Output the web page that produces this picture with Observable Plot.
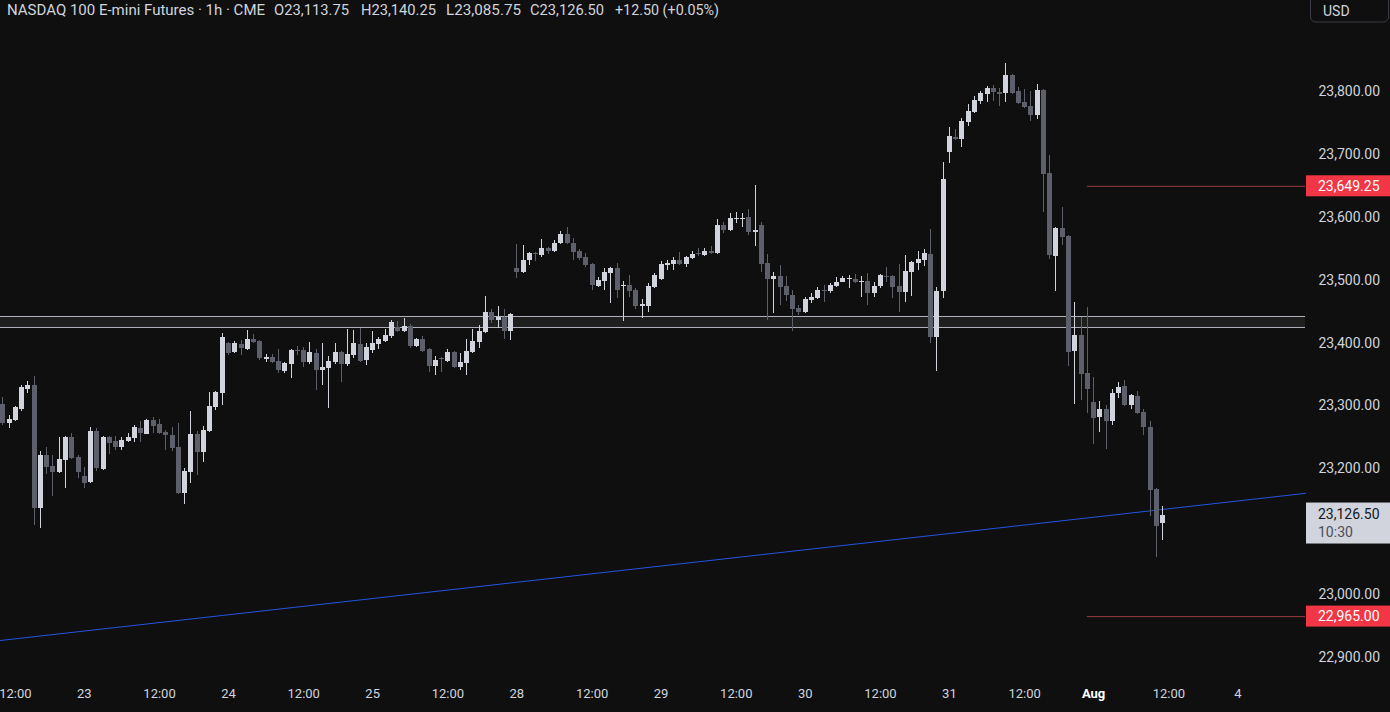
<!DOCTYPE html>
<html>
<head>
<meta charset="utf-8">
<script src="https://cdn.jsdelivr.net/npm/d3@7"></script>
<script src="https://cdn.jsdelivr.net/npm/@observablehq/plot@0.6"></script>
<style>
  html, body { margin: 0; padding: 0; background: #0f0f0f; }
  #chart { width: 1390px; height: 712px; overflow: hidden; }
</style>
</head>
<body>
<div id="chart"></div>
<script>
// ---- Data (hourly bars) ----
const open = [23302,23272,23277,23294.5,23326,23332.5,23137,23221,23203.5,23194,23213,23250,23218,23188,23178,23259.5,23199,23250,23243.5,23234,23243.5,23248,23264,23254.5,23277,23270.5,23258,23253,23234,23161,23194,23254.5,23226,23259.5,23297.5,23320,23399.5,23385,23397.5,23390,23405.5,23402.5,23374,23377,23370.5,23355,23366,23388,23388,23369,23383.5,23356.5,23359.5,23369,23385,23366,23380,23397.5,23372.5,23388,23397.5,23402.5,23410.5,23425,23418.5,23426.5,23394.5,23405.5,23390,23363,23375.5,23370.5,23385,23361,23367.5,23385,23401,23417,23448.5,23436,23440.5,23418.5,23518.5,23512,23531.5,23542.5,23539,23550.5,23545.5,23558.5,23572.5,23558.5,23545.5,23536,23525,23490,23498,23510.5,23518.5,23490,23491.5,23483.5,23458,23458,23488.5,23501,23523.5,23525,23531.5,23525,23534.5,23542.5,23539,23545.5,23542.5,23587,23579,23596.5,23596.5,23599.5,23576,23587,23526.5,23501,23506,23490,23475.5,23455,23448.5,23467.5,23471,23483.5,23482,23490,23496.5,23501,23501,23496.5,23498,23479,23490,23506,23506,23490,23480.5,23512,23526.5,23531.5,23541,23409,23482,23703,23727,23723.5,23750.5,23766.5,23784,23795,23805,23798.5,23797,23825.5,23800,23782.5,23776,23762,23801.5,23669.5,23537.5,23582,23569.5,23386.5,23412,23351.5,23305.5,23281.5,23294.5,23275.5,23320,23331,23300.5,23315,23289.5,23266,23167,23113.75];
const high = [23314,23285,23299,23332,23339,23347,23227.5,23234,23221,23250,23251,23256,23221,23202,23266,23264,23251.5,23251.5,23251.5,23250,23256,23269,23275,23278.5,23281.5,23278.5,23261,23266,23272,23200.5,23291,23259.5,23267.5,23321.5,23323,23415,23401,23402.5,23404,23420,23413.5,23404,23382,23382,23390,23369,23390,23394.5,23393,23401,23390,23399.5,23378.5,23399.5,23386.5,23421.5,23420,23423,23399.5,23418.5,23409,23421.5,23436,23434.5,23439,23429.5,23407.5,23410.5,23391.5,23378.5,23377,23390,23386.5,23383.5,23405.5,23421.5,23428,23474,23453.5,23458,23453.5,23447,23556.5,23555,23544,23544,23564.5,23551.5,23563,23577.5,23584,23566.5,23549,23542.5,23526.5,23504.5,23518.5,23520,23526.5,23498,23507.5,23487,23469.5,23494.5,23510.5,23529.5,23531.5,23536,23544,23537.5,23545.5,23550.5,23550.5,23553.5,23596.5,23591.5,23606,23607.5,23606,23612.5,23650.5,23591.5,23541,23512,23523.5,23506,23483.5,23459.5,23472.5,23479,23488.5,23491.5,23494.5,23504.5,23506,23507.5,23509,23506,23510.5,23496.5,23509,23520,23507.5,23525,23539,23529.5,23545.5,23549,23580.5,23488.5,23687,23743,23739.5,23757,23779.5,23792,23800,23808,23809.5,23805,23844.5,23826.5,23806.5,23803,23800,23811,23803,23698,23584,23615.5,23571,23464.5,23440.5,23456.5,23345.5,23307,23300.5,23326,23337.5,23340.5,23318,23323,23294.5,23275.5,23169,23140.25];
const low = [23269,23264,23275,23291,23320,23110,23105,23191,23156,23192.5,23169,23215,23184.5,23169,23176.5,23196,23197.5,23223,23229,23229,23242,23242,23242,23254,23256,23255,23229,23227.5,23159,23143,23176.5,23189.5,23210,23258,23293,23301,23380,23383,23380,23388,23399,23372,23369,23368,23351.5,23351.5,23343.5,23380,23361,23366,23324.5,23332.5,23296,23366,23337.5,23363,23375.5,23369,23364.5,23383.5,23390,23401,23407.5,23417,23417,23391.5,23393,23385,23353,23348,23353,23369,23359.5,23356.5,23348.5,23383.5,23391.5,23415,23431,23423,23405.5,23404,23502.5,23510.5,23523.5,23529.5,23536,23541,23544,23556.5,23557,23531.5,23531.5,23520,23483.5,23488.5,23483.5,23463,23471,23434.5,23472.5,23453.5,23439,23448.5,23487,23500,23515.5,23515.5,23524,23520,23533.5,23537.5,23538,23541,23541.5,23574,23578,23590,23583.5,23571,23553.5,23512,23436,23447,23459.5,23466,23418.5,23444,23447,23463,23469.5,23464.5,23479,23489,23495.5,23487,23494.5,23472.5,23459.5,23472.5,23487,23496.5,23471,23448.5,23464.5,23474,23515.5,23522,23399.5,23355,23471,23685.5,23722,23711,23744.5,23765.5,23779.5,23782.5,23784,23776,23782.5,23795,23780,23773,23752.5,23755.5,23607.5,23533,23482,23555,23363,23302.5,23308.5,23288,23238.5,23258.5,23231,23269,23312,23299,23294.5,23287,23253,23124.5,23059,23085.75];
const close = [23272,23278.5,23297.5,23329.5,23332.5,23137,23221,23202,23194,23215,23250,23216.5,23194,23176.5,23259.5,23200.5,23250,23240,23234,23245,23250,23266,23256,23277,23267.5,23256,23253,23232.5,23161,23196,23254.5,23226,23261,23299,23321.5,23409,23383.5,23399.5,23391.5,23405.5,23401,23375.5,23377,23369,23356.5,23367.5,23388,23386.5,23369,23385,23356.5,23361,23370.5,23385,23366,23382,23399.5,23370.5,23393,23399.5,23405.5,23412,23432.5,23418.5,23426.5,23394.5,23405.5,23386.5,23363,23372.5,23374,23385,23361,23369,23386.5,23402.5,23418.5,23448.5,23436,23440.5,23418.5,23445.5,23512,23531.5,23542.5,23541,23550.5,23545.5,23558.5,23572.5,23558.5,23544,23534.5,23523.5,23491.5,23499.5,23512,23518.5,23483.5,23491.5,23482,23458,23461.5,23490,23507.5,23525,23526.5,23531.5,23525,23536,23541,23541,23545.5,23542.5,23587,23579,23598,23598,23598,23576,23579,23525,23501,23506,23488.5,23475.5,23453.5,23448.5,23469.5,23472.5,23483.5,23482,23491.5,23496.5,23502.5,23502.5,23496.5,23498,23479,23490,23507.5,23504.5,23488.5,23480.5,23514,23528,23533,23542.5,23409,23482,23660,23728.5,23723.5,23752.5,23768,23785.5,23797,23805,23798.5,23795,23825.5,23797,23781,23774.5,23762,23801.5,23668,23539,23582,23568,23385,23412,23350,23326,23280,23294.5,23275.5,23320,23329.5,23300.5,23316.5,23288,23266,23165.5,23108,23126.5];

// x axis ticks (bar index of the label) and their labels
const tickIndex  = [2, 13, 25, 36, 48, 59, 71, 82, 94, 105, 117, 128, 140, 151, 163, 174, 186, 197];
const tickLabels = ["12:00","23","12:00","24","12:00","25","12:00","28","12:00","29","12:00","30","12:00","31","12:00","Aug","12:00","4"];
const tickBold   = ["Aug"];

// price axis ticks (23,100 is hidden behind the last-price tag in the reference)
const yTicks = [22900, 23000, 23200, 23300, 23400, 23500, 23600, 23700, 23800];

// drawings
const zoneLow = 23424.75, zoneHigh = 23442.25;       // support/resistance zone
const levels = [23649.25, 22965.00];                 // horizontal rays with red price tags
const levelStart = 173;                              // bar index where the rays begin
const trendIdx = [-0.37, 207.8];                     // trend line anchors (bar index)
const trendPrice = [22927, 23161];                   // trend line anchors (price)
const lastPrice = 23126.50, countdown = "10:30";

const title = "NASDAQ 100 E-mini Futures · 1h · CME";
const ohlcText = ["O23,113.75", "H23,140.25", "L23,085.75", "C23,126.50", "+12.50 (+0.05%)"];

// ---- Chart ----
const W = 1390, H = 712, MR = 85, MB = 30;
const xMin = -0.367, xMax = 207.8;
const UP = "#d1d4dc", DOWN = "#5d606b", TXT = "#d1d4dc";
const idx = d3.range(open.length);
const col = i => close[i] >= open[i] ? UP : DOWN;
const fmt = d3.format(",.2f");

const tickData = tickIndex.map((i, k) => ({i, label: tickLabels[k]}));
const trendData = trendIdx.map((x, k) => ({x, y: trendPrice[k]}));

const chart = Plot.plot({
  width: W, height: H,
  marginLeft: 0, marginRight: MR, marginTop: 0, marginBottom: MB,
  style: {background: "#0f0f0f", color: TXT, fontFamily: "Roboto, 'Noto Sans', sans-serif", fontSize: "13px", overflow: "visible"},
  x: {domain: [xMin, xMax], axis: null},
  y: {domain: [22860.2, 23944.7], axis: null},
  color: {type: "identity"},
  marks: [
    Plot.rect([0], {x1: () => xMin, x2: () => xMax, y1: () => zoneLow, y2: () => zoneHigh, fill: "#1f1f1f"}),
    Plot.ruleY([zoneLow, zoneHigh], {x1: () => xMin, x2: () => xMax, stroke: "#b2b5be", strokeWidth: 1}),
    Plot.line(trendData, {x: "x", y: "y", stroke: "#2454e0", strokeWidth: 1}),
    Plot.ruleY(levels, {x1: () => levelStart, x2: () => xMax, stroke: "#9b3a42", strokeWidth: 1}),
    Plot.ruleX(idx, {x: i => i, y1: i => low[i], y2: i => high[i], stroke: col, strokeWidth: 1, shapeRendering: "crispEdges"}),
    Plot.ruleX(idx, {x: i => i, y1: i => open[i], y2: i => close[i], stroke: col, strokeWidth: 5, strokeLinecap: "butt", shapeRendering: "crispEdges"}),
    Plot.text(yTicks, {x: () => xMax, y: d => d, text: d => fmt(d), textAnchor: "start", dx: 13, fill: TXT, fontSize: 14}),
    Plot.text(tickData.filter(d => !tickBold.includes(d.label)), {x: "i", text: "label", frameAnchor: "bottom", dy: 15, fill: TXT, fontSize: 13}),
    Plot.text(tickData.filter(d => tickBold.includes(d.label)), {x: "i", text: "label", frameAnchor: "bottom", dy: 15, fill: "#ffffff", fontSize: 13, fontWeight: "bold"})
  ]
});

// ---- Overlays in the price-axis margin and header ----
const svg = d3.select(chart);
const ys = v => chart.scale("y").apply(v);
const axisX = W - MR + 1;

const tags = svg.append("g").attr("text-anchor", "start").attr("font-size", 14);
levels.forEach(v => {
  const cy = ys(v);
  tags.append("rect").attr("x", axisX).attr("y", cy - 10.5).attr("width", W - axisX).attr("height", 21).attr("fill", "#f23645");
  tags.append("text").attr("x", axisX + 12).attr("y", cy).attr("dy", "0.35em")
    .attr("fill", "#ffffff").text(fmt(v));
});
{
  const cy = ys(lastPrice);
  tags.append("rect").attr("x", axisX).attr("y", cy - 12).attr("width", W - axisX).attr("height", 41).attr("fill", "#d1d4dc");
  tags.append("text").attr("x", axisX + 12).attr("y", cy).attr("dy", "0.35em")
    .attr("fill", "#131722").text(fmt(lastPrice));
  tags.append("text").attr("x", axisX + 12).attr("y", cy + 18).attr("dy", "0.35em")
    .attr("fill", "#4a4e5a").text(countdown);
}
// currency box
tags.append("rect").attr("x", 1310.5).attr("y", -6).attr("width", 78).attr("height", 28).attr("rx", 5)
  .attr("fill", "#0f0f0f").attr("stroke", "#3a3d45");
tags.append("text").attr("x", 1323).attr("y", 11).attr("dy", "0.35em").attr("fill", TXT).text("USD");

// header
const hdr = svg.append("g").attr("font-size", 14).attr("fill", TXT).attr("text-anchor", "start");
const segX = [274, 361, 446, 530, 615];
const segW = [75, 75, 75, 74, 104];
hdr.append("text").attr("x", 7).attr("y", 10).attr("dy", "0.35em").attr("textLength", 258).attr("lengthAdjust", "spacingAndGlyphs").text(title);
ohlcText.forEach((t, k) => {
  hdr.append("text").attr("x", segX[k]).attr("y", 10).attr("dy", "0.35em")
    .attr("textLength", segW[k]).attr("lengthAdjust", "spacingAndGlyphs").text(t);
});

document.getElementById("chart").appendChild(chart);
</script>
</body>
</html>
